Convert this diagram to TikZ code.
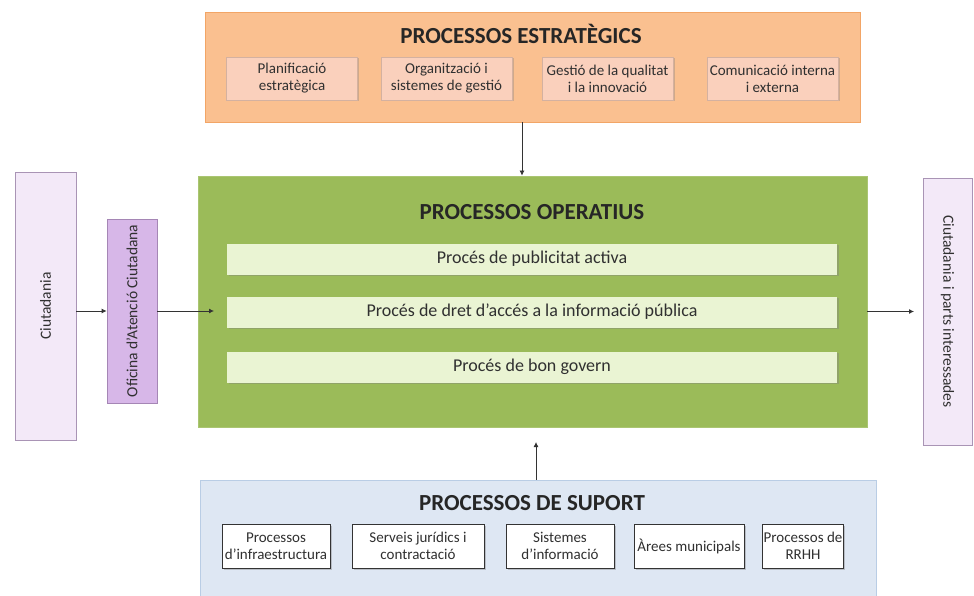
\documentclass[tikz,border=0pt]{standalone}
\usepackage{fontspec}
\setmainfont{Carlito}
\usetikzlibrary{shadows,arrows.meta}
\definecolor{orfill}{HTML}{FAC090}
\definecolor{ordraw}{HTML}{F2A566}
\definecolor{orsub}{HTML}{FAD0BC}
\definecolor{grfill}{HTML}{9BBB59}
\definecolor{grbar}{HTML}{EAF4D3}
\definecolor{ciufill}{HTML}{F3E9F8}
\definecolor{ciudraw}{HTML}{A994B5}
\definecolor{oacfill}{HTML}{D7B7E8}
\definecolor{oacdraw}{HTML}{A586B5}
\definecolor{blfill}{HTML}{DEE7F3}
\definecolor{bldraw}{HTML}{B9CDE5}
\definecolor{txt}{HTML}{303030}
\tikzset{
  orbox/.style={fill=orfill,draw=ordraw,line width=0.8pt,minimum width=655pt,minimum height=110pt,inner sep=0pt},
  orsubbox/.style={fill=orsub,draw=orsub!85!black,line width=0.4pt,minimum width=131pt,minimum height=43pt,inner sep=1pt,align=center,font=\fontsize{15}{17}\selectfont,text=txt,
    drop shadow={shadow xshift=1.5pt,shadow yshift=-1.5pt,opacity=0.35}},
  grbox/.style={fill=grfill,draw=grfill!85!white,line width=0.8pt,minimum width=669pt,minimum height=251pt,inner sep=0pt},
  barbox/.style={fill=grbar,minimum width=610pt,minimum height=31pt,inner sep=0pt,font=\fontsize{18}{20}\selectfont,text=txt,
    drop shadow={shadow xshift=1.5pt,shadow yshift=-1.5pt,opacity=0.4}},
  ciubox/.style={fill=ciufill,draw=ciudraw,line width=0.8pt,inner sep=0pt},
  oacbox/.style={fill=oacfill,draw=oacdraw,line width=0.8pt,inner sep=0pt},
  blbox/.style={fill=blfill,draw=bldraw,line width=0.8pt,minimum width=676pt,minimum height=130pt,inner sep=0pt},
  supbox/.style={fill=white,draw=black!80,line width=1pt,minimum height=44pt,inner sep=1pt,align=center,font=\fontsize{15}{17}\selectfont,text=txt,
    drop shadow={shadow xshift=1.5pt,shadow yshift=-1.5pt,opacity=0.4}},
  ttl/.style={font=\bfseries\fontsize{23}{25}\selectfont,text=black!85},
  vtxt/.style={font=\fontsize{15.5}{17}\selectfont,text=txt},
  arr/.style={draw=black!80,line width=0.8pt,-{Latex[length=5pt,width=5pt]}}
}
\begin{document}
\begin{tikzpicture}[x=1pt,y=-1pt]
\useasboundingbox (0,0) rectangle (974,596);
% strategic
\node[orbox] (orange) at (532.5,67) {};
\node[ttl] (ortitle) at (521,33.5) {PROCESSOS ESTRATÈGICS};
\node[orsubbox] (os1) at (292,78.5) {Planificació\\estratègica};
\node[orsubbox] (os2) at (446.5,78.5) {Organització i\\sistemes de gestió};
\node[orsubbox] (os3) at (607.5,78.5) {Gestió de la qualitat\\i la innovació};
\node[orsubbox] (os4) at (772.5,78.5) {Comunicació interna\\i externa};
% operative
\node[grbox] (green) at (532.5,301.5) {};
\node[ttl] (grtitle) at (532,212) {PROCESSOS OPERATIUS};
\node[barbox] (b1) at (532,259) {Procés de publicitat activa};
\node[barbox] (b2) at (532,312) {Procés de dret d’accés a la informació pública};
\node[barbox] (b3) at (532,367) {Procés de bon govern};
% left / right
\node[ciubox,minimum width=61pt,minimum height=268pt] (ciu) at (45.5,306) {};
\node[vtxt,rotate=90] (ciut) at (ciu.center) {Ciutadania};
\node[oacbox,minimum width=50pt,minimum height=184pt] (oac) at (132,311) {};
\node[vtxt,rotate=90] (oact) at (oac.center) {Oficina d’Atenció Ciutadana};
\node[ciubox,minimum width=49pt,minimum height=267pt] (rgt) at (947.5,311.5) {};
\node[vtxt,rotate=-90] (rgtt) at (rgt.center) {Ciutadania i parts interessades};
% support
\node[blbox] (blue) at (538,545) {};
\node[ttl] (bltitle) at (532,503) {PROCESSOS DE SUPORT};
\node[supbox,minimum width=108pt] (s1) at (276,546) {Processos\\d’infraestructura};
\node[supbox,minimum width=132pt] (s2) at (418,546) {Serveis jurídics i\\contractació};
\node[supbox,minimum width=108pt] (s3) at (560,546) {Sistemes\\d’informació};
\node[supbox,minimum width=110pt] (s4) at (689,546) {Àrees municipals};
\node[supbox,minimum width=78pt] (s5) at (803,546) {Processos de\\RRHH};
% connectors
\coordinate (ax) at (522,0);
\draw[arr] (orange.south -| ax) -- (green.north -| ax);
\coordinate (bt) at (536,442);
\draw[arr] (blue.north -| bt) -- (bt);
\draw[arr] (ciu.east |- oac.west) -- (oac.west);
\coordinate (gin) at (214,311);
\draw[arr] (oac.east) -- (gin);
\coordinate (rt) at (914,311.5);
\draw[arr] (green.east |- rt) -- (rt);
\end{tikzpicture}
\end{document}
